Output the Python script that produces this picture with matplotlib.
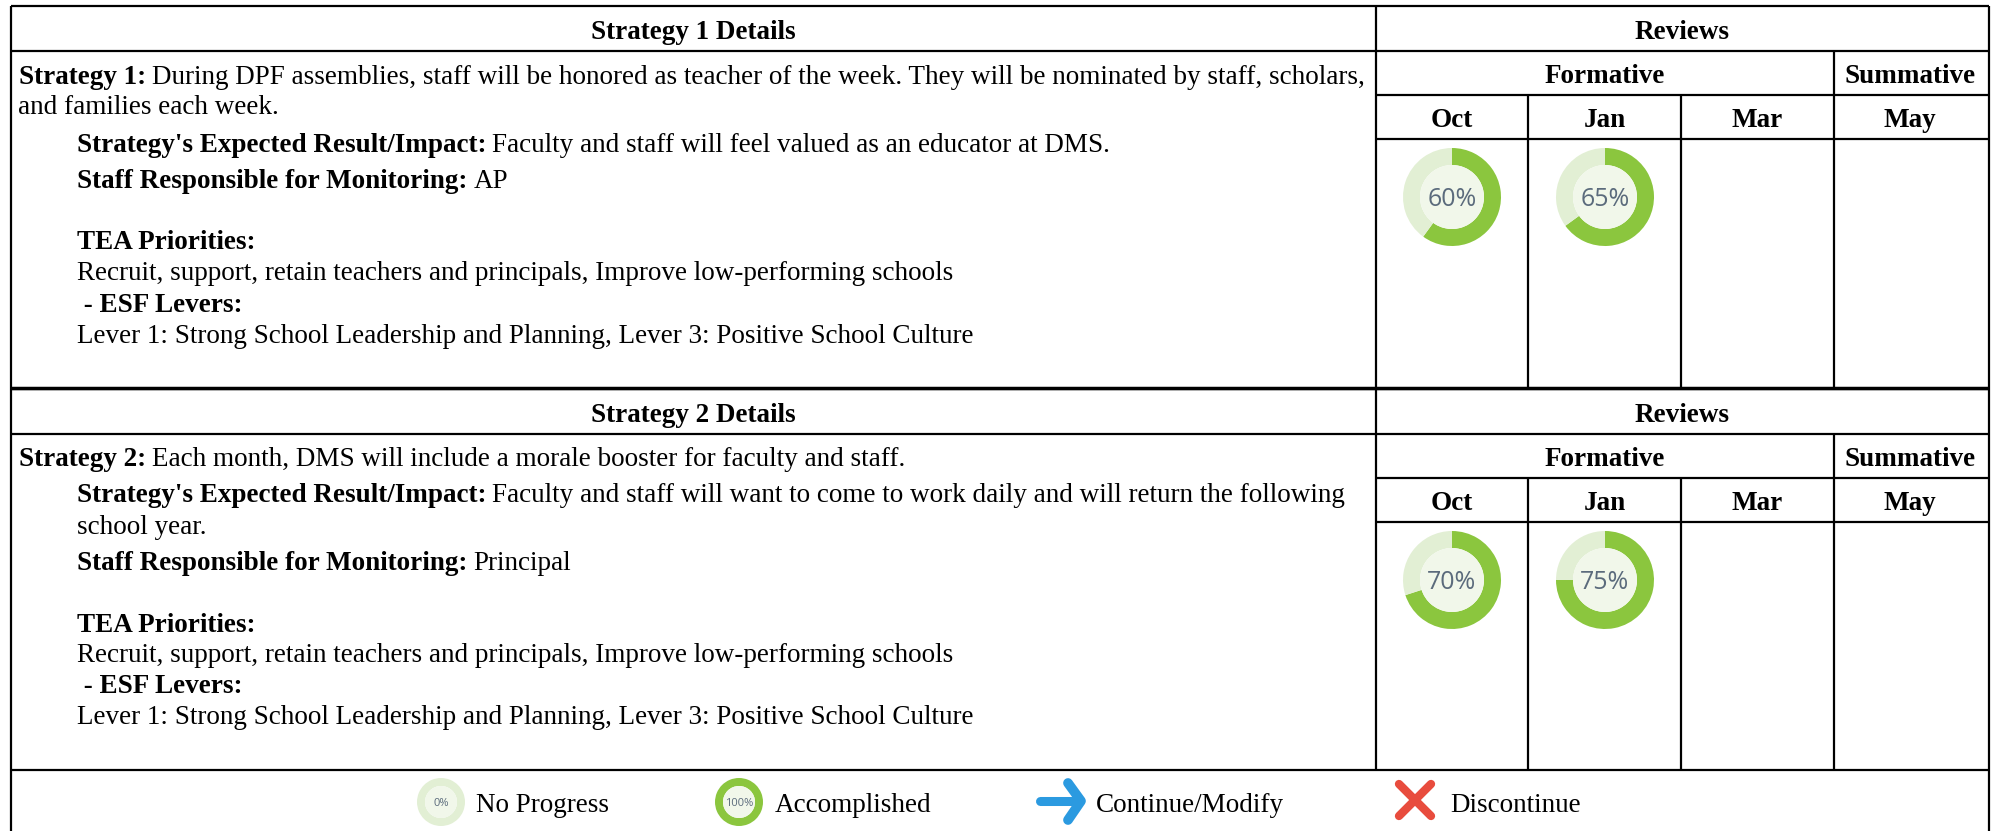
import matplotlib
matplotlib.use("Agg")
import matplotlib.pyplot as plt
from matplotlib.patches import Circle

W, H = 1997, 831

# --- data ---------------------------------------------------------------------
months = ["Oct", "Jan", "Mar", "May"]
progress_s1 = [60, 65]
progress_s2 = [70, 75]
legend_labels = ["No Progress", "Accomplished", "Continue/Modify", "Discontinue"]
legend_progress = [0, 100]

priorities = "Recruit, support, retain teachers and principals, Improve low-performing schools"
levers = "Lever 1: Strong School Leadership and Planning, Lever 3: Positive School Culture"

# bold part, regular part, x, baseline y
rows_s1 = [
    ("Strategy 1:", "During DPF assemblies, staff will be honored as teacher of the week. They will be nominated by staff, scholars,", 19, 84),
    ("", "and families each week.", 18, 114),
    ("Strategy's Expected Result/Impact:", "Faculty and staff will feel valued as an educator at DMS.", 77, 152),
    ("Staff Responsible for Monitoring:", "AP", 77, 188),
    ("TEA Priorities:", "", 77, 249),
    ("", priorities, 77, 280),
    (" - ESF Levers:", "", 77, 312),
    ("", levers, 77, 343),
]
rows_s2 = [
    ("Strategy 2:", "Each month, DMS will include a morale booster for faculty and staff.", 19, 466),
    ("Strategy's Expected Result/Impact:", "Faculty and staff will want to come to work daily and will return the following", 77, 502),
    ("", "school year.", 77, 534),
    ("Staff Responsible for Monitoring:", "Principal", 77, 570),
    ("TEA Priorities:", "", 77, 632),
    ("", priorities, 77, 662),
    (" - ESF Levers:", "", 77, 693),
    ("", levers, 77, 724),
]

RING = "#8bc63e"
TRACK = "#e2efd4"
INNER = "#f1f7ea"
LABEL = "#5b6b7c"
FS = 19.5

plt.rcParams["font.family"] = "Liberation Serif"
fig = plt.figure(figsize=(W / 100, H / 100), dpi=100, facecolor="white")
ax = fig.add_axes([0, 0, 1, 1])
renderer = fig.canvas.get_renderer()


def Y(y):
    return H - y


def hline(y, x0, x1, lw=1.6):
    ax.plot([x0, x1], [Y(y), Y(y)], color="black", lw=lw, solid_capstyle="butt", zorder=3)


def vline(x, y0, y1, lw=1.6):
    ax.plot([x, x], [Y(y0), Y(y1)], color="black", lw=lw, solid_capstyle="butt", zorder=3)


def label(x, y, s, bold=False, ha="left"):
    return ax.text(x, Y(y), s, fontsize=FS, ha=ha, va="baseline", color="black",
                   fontweight="bold" if bold else "normal")


def rich(bold, regular, x, y):
    if bold:
        t = label(x, y, bold, bold=True)
        x = x + t.get_window_extent(renderer).width + 6
    if regular:
        label(x, y, regular)


def donut(value, cx, cy, r, width, fs):
    ax.pie([value, 100 - value], center=(cx, Y(cy)), radius=r, startangle=90,
           counterclock=False, colors=[RING, TRACK],
           wedgeprops=dict(width=width, linewidth=0))
    ax.add_patch(Circle((cx, Y(cy)), r - width, color=INNER, lw=0))
    ax.text(cx, Y(cy + 0.05 * r), f"{value}%", fontsize=fs, ha="center", va="center",
            color=LABEL, family="Open Sans")


def section(top, title, rows, progress):
    hh = [top, top + 45, top + 89, top + 133]
    bottom = top + 382
    hline(hh[0], 11, 1989)
    hline(hh[1], 11, 1989)
    hline(hh[2], 1376, 1989)
    hline(hh[3], 1376, 1989)
    vline(1376, top, bottom)
    vline(1528, hh[2], bottom)
    vline(1681, hh[2], bottom)
    vline(1834, hh[1], bottom)
    label(693, top + 33, title, bold=True, ha="center")
    label(1682, top + 33, "Reviews", bold=True, ha="center")
    label(1605, top + 77, "Formative", bold=True, ha="center")
    label(1910, top + 77, "Summative", bold=True, ha="center")
    for m, cx in zip(months, [1452, 1605, 1757, 1910]):
        label(cx, top + 121, m, bold=True, ha="center")
    for v, cx in zip(progress, [1452, 1605]):
        donut(v, cx, top + 191, 49, 17, 18)
    for bold, regular, x, y in rows:
        rich(bold, regular, x, y)


section(6, "Strategy 1 Details", rows_s1, progress_s1)
section(389, "Strategy 2 Details", rows_s2, progress_s2)

# outer frame and the rule between the two tables
vline(11, 6, H)
vline(1989, 6, H)
hline(388, 11, 1989, lw=2.5)
hline(770, 11, 1989)

# legend
donut(legend_progress[0], 441, 802, 24, 8, 8)
donut(legend_progress[1], 739, 802, 24, 8, 8)
for s, x in zip(legend_labels, [476, 775, 1096, 1450]):
    label(x, 812, s)

# arrow icon
ax.plot([1040, 1080], [Y(801), Y(801)], color="#2b9ae0", lw=6.5, solid_capstyle="round")
ax.plot([1068, 1081, 1068], [Y(783), Y(801), Y(820)], color="#2b9ae0", lw=7,
        solid_capstyle="round", solid_joinstyle="round")

# cross icon
ax.plot([1399, 1431], [Y(784), Y(816)], color="#e84c3d", lw=6, solid_capstyle="round")
ax.plot([1431, 1399], [Y(784), Y(816)], color="#e84c3d", lw=6, solid_capstyle="round")

ax.set_aspect("auto")
ax.set_xlim(0, W)
ax.set_ylim(0, H)
ax.axis("off")
fig.savefig("out.png", dpi=100)
